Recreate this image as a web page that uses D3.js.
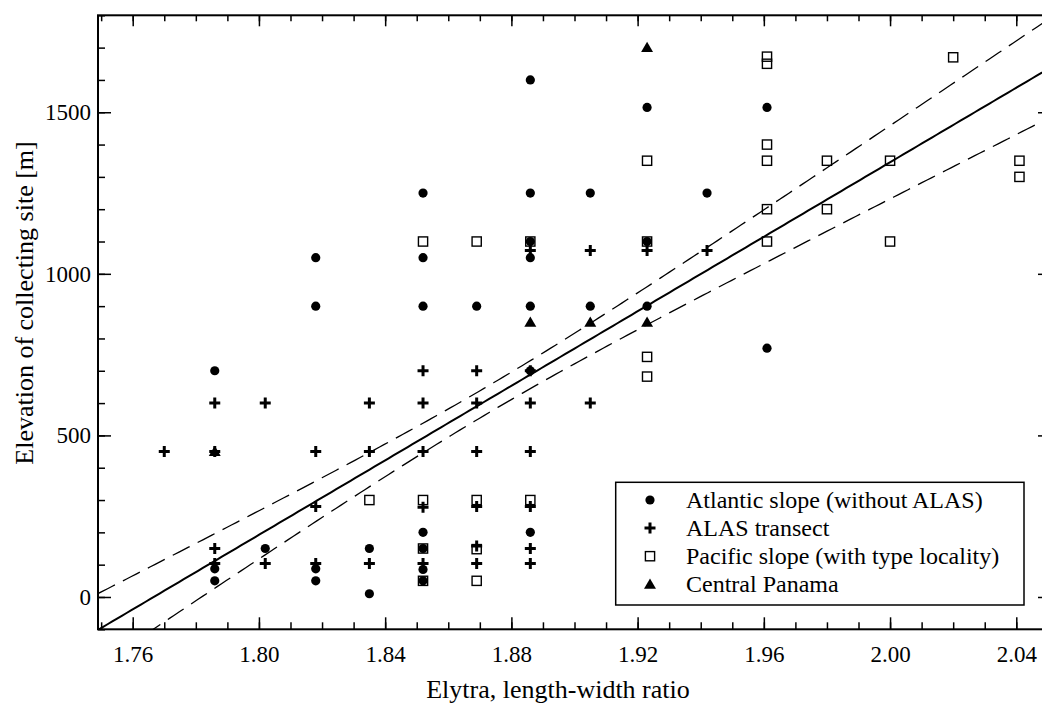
<!DOCTYPE html>
<html>
<head>
<meta charset="utf-8">
<script src="https://cdn.jsdelivr.net/npm/d3@7"></script>
<style>
  body { margin: 0; background: #fff; }
  svg { display: block; font-family: "Liberation Serif", "Times New Roman", serif; }
</style>
</head>
<body>
<div id="chart"></div>
<script>
// data: [length-width ratio, elevation m]
const atlantic = [
  [1.786, 700], [1.786, 87], [1.786, 50],
  [1.802, 150],
  [1.818, 1050], [1.818, 900], [1.818, 87], [1.818, 50],
  [1.835, 150], [1.835, 10],
  [1.852, 1250], [1.852, 1050], [1.852, 900], [1.852, 200], [1.852, 150], [1.852, 85], [1.852, 50],
  [1.869, 900],
  [1.886, 1600], [1.886, 1250], [1.886, 1100], [1.886, 1050], [1.886, 900], [1.886, 700], [1.886, 200],
  [1.905, 1250], [1.905, 900],
  [1.923, 1515], [1.923, 1100], [1.923, 900],
  [1.942, 1250],
  [1.961, 1515], [1.961, 770]
];
const alas = [
  [1.770, 450],
  [1.786, 600], [1.786, 450], [1.786, 150], [1.786, 104],
  [1.802, 600], [1.802, 104],
  [1.818, 450], [1.818, 280], [1.818, 104],
  [1.835, 600], [1.835, 450], [1.835, 104],
  [1.852, 700], [1.852, 600], [1.852, 450], [1.852, 278], [1.852, 104],
  [1.869, 700], [1.869, 600], [1.869, 450], [1.869, 280], [1.869, 158], [1.869, 104],
  [1.886, 1072], [1.886, 700], [1.886, 600], [1.886, 450], [1.886, 280], [1.886, 150], [1.886, 104],
  [1.905, 1072], [1.905, 600],
  [1.923, 1072],
  [1.942, 1072]
];
const pacific = [
  [1.835, 300],
  [1.852, 1100], [1.852, 300], [1.852, 150], [1.852, 50],
  [1.869, 1100], [1.869, 300], [1.869, 148], [1.869, 50],
  [1.886, 1100], [1.886, 300],
  [1.923, 1350], [1.923, 1100], [1.923, 743], [1.923, 682],
  [1.961, 1672], [1.961, 1650], [1.961, 1400], [1.961, 1350], [1.961, 1200], [1.961, 1100],
  [1.980, 1350], [1.980, 1200],
  [2.000, 1350], [2.000, 1100],
  [2.020, 1670],
  [2.041, 1350], [2.041, 1300]
];
const panama = [
  [1.786, 450], [1.886, 850], [1.905, 850], [1.923, 850], [1.923, 1700]
];

// regression line and 95% band
const fitX0 = 1.75, fitY0 = -96, fitSlope = 5765;
const bandXMean = 1.8738, bandA = 1764, bandB = 696300;

const xTicks = [1.76, 1.80, 1.84, 1.88, 1.92, 1.96, 2.00, 2.04];
const yTicks = [0, 500, 1000, 1500];
const legendLabels = ["Atlantic slope (without ALAS)", "ALAS transect",
  "Pacific slope (with type locality)", "Central Panama"];

const width = 1042, height = 708;
const margin = {top: 15.3, right: -9, bottom: 78.7, left: 98};
const iw = width - margin.left - margin.right;
const ih = height - margin.top - margin.bottom;

const svg = d3.select("#chart").append("svg")
  .attr("width", width).attr("height", height);

const x = d3.scaleLinear().domain([1.749, 2.051]).range([0, iw]);
const y = d3.scaleLinear().domain([-100, 1800]).range([ih, 0]);

const g = svg.append("g")
  .attr("transform", "translate(" + margin.left + "," + margin.top + ")");

svg.append("defs").append("clipPath").attr("id", "clip")
  .append("rect").attr("width", iw).attr("height", ih);

// minor ticks
const xMinor = d3.range(175, 206).map(d => d / 100).filter(d => d > 1.749 && d < 2.051);
const yMinor = d3.range(-100, 1801, 100);

function styleAxis(sel) {
  sel.select(".domain").remove();
  sel.selectAll("line").attr("stroke", "#000").attr("stroke-width", 1.5);
  sel.selectAll("text").attr("fill", "#000").style("font-size", "23px")
    .style("font-family", "'Liberation Serif', serif");
}

g.append("g").attr("transform", "translate(0," + ih + ")")
  .call(d3.axisBottom(x).tickValues(xMinor).tickSize(-7).tickFormat("")).call(styleAxis);
g.append("g").attr("transform", "translate(0," + ih + ")")
  .call(d3.axisBottom(x).tickValues(xTicks).tickSize(-12).tickPadding(16)
    .tickFormat(d3.format(".2f"))).call(styleAxis);
g.append("g")
  .call(d3.axisTop(x).tickValues(xMinor).tickSize(-6).tickFormat("")).call(styleAxis);
g.append("g")
  .call(d3.axisTop(x).tickValues(xTicks).tickSize(-11).tickFormat("")).call(styleAxis);

g.append("g")
  .call(d3.axisLeft(y).tickValues(yMinor).tickSize(-7).tickFormat("")).call(styleAxis);
g.append("g")
  .call(d3.axisLeft(y).tickValues(yTicks).tickSize(-13).tickPadding(7)
    .tickFormat(d3.format("d"))).call(styleAxis);
g.append("g").attr("transform", "translate(" + iw + ",0)")
  .call(d3.axisRight(y).tickValues(yMinor).tickSize(-7).tickFormat("")).call(styleAxis);
g.append("g").attr("transform", "translate(" + iw + ",0)")
  .call(d3.axisRight(y).tickValues(yTicks).tickSize(-13).tickFormat("")).call(styleAxis);

// frame
g.append("rect").attr("width", iw).attr("height", ih)
  .attr("fill", "none").attr("stroke", "#000").attr("stroke-width", 2);

// fit and band
const fit = v => fitY0 + fitSlope * (v - fitX0);
const half = v => Math.sqrt(bandA + bandB * (v - bandXMean) * (v - bandXMean));
const xs = d3.range(0, 201).map(i => 1.749 + (2.051 - 1.749) * i / 200);
const line = d3.line().x(d => x(d[0])).y(d => y(d[1]));
const curves = g.append("g").attr("clip-path", "url(#clip)");
curves.append("path").datum(xs.map(v => [v, fit(v)])).attr("d", line)
  .attr("fill", "none").attr("stroke", "#000").attr("stroke-width", 2);
curves.append("path").datum(xs.map(v => [v, fit(v) + half(v)])).attr("d", line)
  .attr("fill", "none").attr("stroke", "#000").attr("stroke-width", 1.3)
  .attr("stroke-dasharray", "19,9");
curves.append("path").datum(xs.map(v => [v, fit(v) - half(v)])).attr("d", line)
  .attr("fill", "none").attr("stroke", "#000").attr("stroke-width", 1.3)
  .attr("stroke-dasharray", "19,9");

// markers
const plusPath = "M-5.5,0H5.5M0,-5.5V5.5";
const triPath = d3.symbol().type(d3.symbolTriangle).size(62)();

function drawMarker(sel, kind) {
  if (kind === 0) {
    sel.append("circle").attr("r", 4.6).attr("fill", "#000");
  } else if (kind === 1) {
    sel.append("path").attr("d", plusPath).attr("stroke", "#000").attr("stroke-width", 3);
  } else if (kind === 2) {
    sel.append("rect").attr("x", -4.6).attr("y", -4.6).attr("width", 9.2).attr("height", 9.2)
      .attr("fill", "none").attr("stroke", "#000").attr("stroke-width", 1.4);
  } else {
    sel.append("path").attr("d", triPath).attr("transform", "translate(0,1)").attr("fill", "#000");
  }
}

const series = [atlantic, alas, pacific, panama];
series.forEach((data, k) => {
  g.append("g").selectAll("g")
    .data(data)
    .join("g")
    .attr("transform", d => "translate(" + x(d[0]) + "," + y(d[1]) + ")")
    .each(function () { drawMarker(d3.select(this), k); });
});

// legend
const lg = svg.append("g").attr("transform", "translate(615.7,482.3)");
lg.append("rect").attr("width", 408.3).attr("height", 122.7)
  .attr("fill", "#fff").attr("stroke", "#000").attr("stroke-width", 1.5);
legendLabels.forEach((t, i) => {
  const row = lg.append("g").attr("transform", "translate(34.3," + (17.7 + i * 28.1) + ")");
  drawMarker(row, i);
  row.append("text").attr("x", 36).attr("y", 8).text(t)
    .style("font-size", "24px").attr("fill", "#000");
});

// axis titles
svg.append("text").attr("x", 558).attr("y", 698).attr("text-anchor", "middle")
  .style("font-size", "26px").text("Elytra, length-width ratio");
svg.append("text").attr("transform", "translate(33,303) rotate(-90)")
  .attr("text-anchor", "middle").style("font-size", "26px")
  .text("Elevation of collecting site [m]");
</script>
</body>
</html>
